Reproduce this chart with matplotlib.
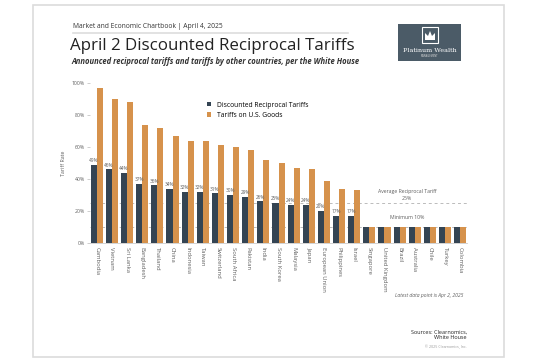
import numpy as np
import matplotlib.pyplot as plt
from matplotlib.patches import Rectangle, Polygon

plt.rcParams['font.family'] = ['Open Sans', 'DejaVu Sans']

# data
countries = ['Cambodia', 'Vietnam', 'Sri Lanka', 'Bangladesh', 'Thailand', 'China',
             'Indonesia', 'Taiwan', 'Switzerland', 'South Africa', 'Pakistan', 'India',
             'South Korea', 'Malaysia', 'Japan', 'European Union', 'Philippines', 'Israel',
             'Singapore', 'United Kingdom', 'Brazil', 'Australia', 'Chile', 'Turkey', 'Colombia']
discounted = [49, 46, 44, 37, 36, 34, 32, 32, 31, 30, 29, 26, 25, 24, 24, 20, 17, 17,
              10, 10, 10, 10, 10, 10, 10]
tariffs_us = [97, 90, 88, 74, 72, 67, 64, 64, 61, 60, 58, 52, 50, 47, 46, 39, 34, 33,
              10, 10, 10, 10, 10, 10, 10]
avg_tariff = 25
min_tariff = 10

W, H = 540, 363
DARK = '#344453'
ORANGE = '#d6924c'
GRAY = '#5f5f5f'


def fx(x):
    return x / W


def fy(y):
    return 1 - y / H


fig = plt.figure(figsize=(5.4, 3.63), dpi=100)
fig.patch.set_facecolor('white')

# page border
fig.patches.append(Rectangle((fx(33), fy(357)), fx(504) - fx(33), fy(5) - fy(357),
                             transform=fig.transFigure, fill=False,
                             edgecolor='#dcdcdc', lw=1.2))

# header
fig.text(fx(73), fy(26), 'Market and Economic Chartbook | April 4, 2025',
         fontsize=4.9, color='#333333', va='center')
fig.add_artist(plt.Line2D([fx(73), fx(348)], [fy(33), fy(33)],
                          transform=fig.transFigure, color='#dddddd', lw=1.2))
fig.text(fx(70), fy(46), 'April 2 Discounted Reciprocal Tariffs',
         fontsize=12.2, color='#222222', va='center')
fig.text(fx(71), fy(62), 'Announced reciprocal tariffs and tariffs by other countries, per the White House',
         fontsize=5.5, style='italic', fontweight='bold', color='#333333', va='center')

# logo
fig.patches.append(Rectangle((fx(398), fy(61)), fx(461) - fx(398), fy(24) - fy(61),
                             transform=fig.transFigure, facecolor='#4b5b67', edgecolor='none'))
fig.patches.append(Rectangle((fx(422), fy(43)), fx(438) - fx(422), fy(27) - fy(43),
                             transform=fig.transFigure, fill=False, edgecolor='white', lw=0.8))
crown = [(425, 40), (435, 40), (435, 33), (432, 36), (430, 31), (428, 36), (425, 33)]
fig.patches.append(Polygon([(fx(a), fy(b)) for a, b in crown], closed=True,
                           transform=fig.transFigure, facecolor='white', edgecolor='none'))
fig.text(fx(429.5), fy(50), 'Platinum Wealth', fontsize=4.6, family='DejaVu Serif',
         color='white', ha='center', va='center')
fig.text(fx(429.5), fy(56), 'MANAGEMENT', fontsize=1.8, color='#dddddd',
         ha='center', va='center')

# chart
ax = fig.add_axes([fx(90), fy(243), fx(467) - fx(90), fy(83) - fy(243)])
x = np.arange(len(countries))
w = 0.4
ax.bar(x - w / 2, discounted, w, color=DARK, label='Discounted Reciprocal Tariffs', zorder=2)
ax.bar(x + w / 2, tariffs_us, w, color=ORANGE, label='Tariffs on U.S. Goods', zorder=2)

for xi, v in zip(x, discounted):
    if v > min_tariff:
        ax.text(xi - w / 2, v + 1, f'{v}%', fontsize=3.4, color=GRAY,
                ha='center', va='bottom')

ax.axhline(avg_tariff, color='#bbbbbb', lw=0.7, ls=(0, (3, 3)), zorder=1)
ax.axhline(min_tariff, color='#bbbbbb', lw=0.7, ls=(0, (3, 3)), zorder=1)
ax.text(20.5, avg_tariff + 1.5, f'Average Reciprocal Tariff\n{avg_tariff}%',
        fontsize=3.7, color=GRAY, ha='center', va='bottom', linespacing=1.3)
ax.text(20.5, min_tariff + 4.5, f'Minimum {min_tariff}%',
        fontsize=3.7, color=GRAY, ha='center', va='bottom')

ax.set_xlim(-0.45, len(countries) - 0.55)
ax.set_ylim(0, 100)
ax.set_yticks(range(0, 101, 20))
ax.set_yticklabels([f'{t}%' for t in range(0, 101, 20)])
ax.set_xticks(x)
ax.set_xticklabels(countries, rotation=270, ha='center', va='top')
ax.tick_params(axis='x', length=0, pad=3, labelsize=4.2, labelcolor=GRAY)
ax.tick_params(axis='y', length=2, width=0.5, color='#bbbbbb', pad=1.5,
               labelsize=3.7, labelcolor=GRAY)
for s in ['top', 'right', 'left']:
    ax.spines[s].set_visible(False)
ax.spines['bottom'].set_color('#cccccc')
ax.spines['bottom'].set_linewidth(0.6)
ax.set_ylabel('Tariff Rate', fontsize=3.8, color=GRAY, labelpad=4)

ax.legend(loc='upper left', bbox_to_anchor=(0.3, 0.905), frameon=False, fontsize=4.9,
          handlelength=0.6, handleheight=0.6, handletextpad=0.9, labelspacing=0.5,
          borderpad=0)

# footer
fig.text(fx(463), fy(296), 'Latest data point is Apr 2, 2025', fontsize=3.6,
         style='italic', color=GRAY, ha='right', va='center')
fig.text(fx(467), fy(335), 'Sources: Clearnomics,\nWhite House', fontsize=4.0,
         color='#222222', ha='right', va='center', linespacing=1.1)
fig.text(fx(467), fy(347), '\u00a9 2025 Clearnomics, Inc.', fontsize=2.6,
         color='#999999', ha='right', va='center')

fig.savefig('out.png', dpi=100, facecolor='white')
